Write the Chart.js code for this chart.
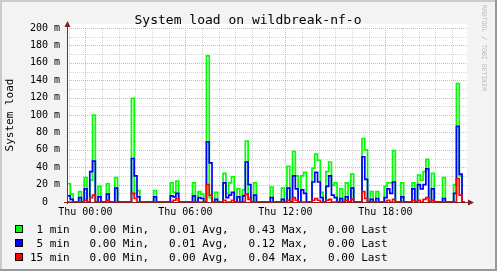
<!DOCTYPE html>
<html>
<head>
<meta charset="utf-8">
<script src="https://cdn.jsdelivr.net/npm/chart.js@4/dist/chart.umd.min.js"></script>
<style>
  html, body { margin: 0; padding: 0; background: #f3f3f3; }
  canvas { display: block; }
</style>
</head>
<body>
<canvas id="load" width="497" height="271"></canvas>
<script>
// samples every 10 minutes, minutes counted from Thu 00:00
const sampleStart = -64;
const sampleStep = 10;

// load averages in milli-units (the axis shows "m")
const load1 = [21, 9, 0, 0, 12, 0, 28, 0, 25, 100,
  0, 18, 0, 0, 21, 0, 0, 28, 0, 0,
  0, 0, 0, 119, 10, 13, 0, 0, 0, 0,
  0, 13, 0, 0, 0, 0, 0, 22, 11, 24,
  0, 0, 0, 0, 0, 22, 0, 12, 9, 0,
  168, 5, 0, 11, 0, 0, 33, 10, 22, 29,
  0, 15, 0, 14, 70, 5, 0, 22, 0, 0,
  0, 0, 0, 17, 0, 0, 0, 16, 0, 41,
  0, 58, 30, 0, 30, 34, 0, 0, 39, 55,
  48, 11, 0, 35, 46, 19, 22, 0, 15, 0,
  22, 0, 32, 0, 0, 0, 73, 60, 0, 12,
  0, 12, 0, 0, 18, 22, 22, 59, 0, 0,
  22, 0, 0, 0, 22, 0, 31, 25, 35, 49,
  0, 33, 0, 0, 0, 28, 0, 0, 0, 20,
  136, 30, 0, 0];
const load5 = [7, 3, 0, 0, 5, 0, 15, 0, 35, 47,
  0, 6, 0, 0, 9, 0, 0, 16, 0, 0,
  0, 0, 0, 50, 30, 6, 0, 0, 0, 0,
  0, 6, 0, 0, 0, 0, 0, 7, 6, 10,
  0, 0, 0, 0, 0, 7, 0, 5, 4, 0,
  69, 45, 0, 3, 0, 0, 22, 5, 8, 11,
  0, 6, 0, 7, 46, 20, 0, 8, 0, 0,
  0, 0, 0, 5, 0, 0, 0, 3, 0, 16,
  0, 30, 15, 0, 14, 10, 0, 0, 23, 34,
  23, 5, 0, 18, 30, 8, 5, 0, 4, 0,
  6, 0, 16, 0, 0, 0, 52, 26, 0, 3,
  0, 4, 0, 0, 5, 15, 10, 23, 0, 0,
  6, 0, 0, 0, 15, 0, 20, 15, 20, 38,
  0, 15, 0, 0, 0, 4, 0, 0, 0, 10,
  87, 32, 0, 0];
const load15 = [0, 0, 0, 0, 0, 0, 2, 0, 5, 8,
  0, 0, 0, 0, 2, 0, 0, 0, 0, 0,
  0, 0, 0, 10, 4, 0, 0, 0, 0, 0,
  0, 0, 0, 0, 0, 0, 0, 0, 2, 4,
  0, 0, 0, 0, 0, 0, 0, 0, 0, 0,
  20, 8, 0, 0, 0, 0, 2, 0, 0, 2,
  0, 0, 0, 0, 9, 3, 0, 0, 0, 0,
  0, 0, 0, 0, 0, 0, 0, 0, 0, 2,
  0, 5, 2, 0, 0, 0, 0, 0, 2, 4,
  2, 0, 0, 2, 3, 0, 0, 0, 0, 0,
  2, 0, 3, 0, 0, 0, 12, 4, 0, 0,
  0, 0, 0, 0, 0, 2, 0, 3, 0, 0,
  0, 0, 0, 0, 2, 0, 2, 0, 3, 5,
  0, 2, 0, 0, 0, 0, 0, 0, 0, 0,
  27, 8, 0, 0];

const timeTicks = [0, 360, 720, 1080];
const timeLabels = ['Thu 00:00', 'Thu 06:00', 'Thu 12:00', 'Thu 18:00'];
const loadTicks = [0, 20, 40, 60, 80, 100, 120, 140, 160, 180, 200];
const loadLabels = ['0  ', '20 m', '40 m', '60 m', '80 m', '100 m', '120 m', '140 m', '160 m', '180 m', '200 m'];

const legendNames = [' 1 min', ' 5 min', '15 min'];
const legendColors = ['#00ff00', '#0000ff', '#ff0000'];
const legendMin = ['0.00', '0.00', '0.00'];
const legendAvg = ['0.01', '0.01', '0.00'];
const legendMax = ['0.43', '0.12', '0.04'];
const legendLast = ['0.00', '0.00', '0.00'];

const mono = '"DejaVu Sans Mono", monospace';

function points(values) {
  return values.map((v, i) => ({ x: sampleStart + i * sampleStep, y: v }));
}

// background, frame, canvas, grid, axes and texts in the rrdtool look
const rrdLook = {
  id: 'rrdLook',
  beforeDraw(chart) {
    const ctx = chart.ctx;
    const a = chart.chartArea;
    const W = chart.width, H = chart.height;
    ctx.save();
    ctx.fillStyle = '#f3f3f3';
    ctx.fillRect(0, 0, W, H);
    ctx.fillStyle = '#cbcbcb';
    ctx.fillRect(0, 0, W, 2);
    ctx.fillRect(0, 0, 2, H);
    ctx.fillStyle = '#999999';
    ctx.fillRect(0, H - 2, W, 2);
    ctx.fillRect(W - 2, 0, 2, H);
    ctx.fillStyle = '#ffffff';
    ctx.fillRect(a.left, a.top - 4, a.right - a.left, a.bottom - a.top + 4);
    ctx.restore();
  },
  beforeDatasetsDraw(chart) {
    const ctx = chart.ctx;
    const a = chart.chartArea;
    const xs = chart.scales.x, ys = chart.scales.y;
    ctx.save();
    ctx.lineWidth = 1;
    ctx.setLineDash([1, 1]);
    for (let t = -60; t <= xs.max; t += 60) {
      const px = Math.round(xs.getPixelForValue(t)) + 0.5;
      ctx.strokeStyle = t % 360 === 0 ? 'rgba(215,120,120,0.6)' : 'rgba(170,170,170,0.5)';
      ctx.beginPath();
      ctx.moveTo(px, a.top);
      ctx.lineTo(px, a.bottom);
      ctx.stroke();
    }
    for (let v = 10; v <= ys.max; v += 10) {
      const py = Math.round(ys.getPixelForValue(v)) + 0.5;
      ctx.strokeStyle = v % 20 === 0 ? 'rgba(215,120,120,0.6)' : 'rgba(170,170,170,0.5)';
      ctx.beginPath();
      ctx.moveTo(a.left, py);
      ctx.lineTo(a.right, py);
      ctx.stroke();
    }
    ctx.restore();
  },
  afterDatasetsDraw(chart) {
    const ctx = chart.ctx;
    const a = chart.chartArea;
    ctx.save();
    // axes
    ctx.setLineDash([]);
    ctx.lineWidth = 1;
    ctx.strokeStyle = '#444444';
    ctx.beginPath();
    ctx.moveTo(a.left + 0.5, a.bottom + 2);
    ctx.lineTo(a.left + 0.5, a.top - 4);
    ctx.stroke();
    ctx.strokeStyle = '#7f1f1f';
    ctx.beginPath();
    ctx.moveTo(a.left - 3, a.bottom + 0.5);
    ctx.lineTo(a.right + 2, a.bottom + 0.5);
    ctx.stroke();
    // arrows
    ctx.fillStyle = '#7f1f1f';
    ctx.beginPath();
    ctx.moveTo(a.left + 0.5, a.top - 7);
    ctx.lineTo(a.left + 3.5, a.top - 1);
    ctx.lineTo(a.left - 2.5, a.top - 1);
    ctx.closePath();
    ctx.fill();
    ctx.beginPath();
    ctx.moveTo(a.right + 7, a.bottom + 0.5);
    ctx.lineTo(a.right + 1, a.bottom - 2.5);
    ctx.lineTo(a.right + 1, a.bottom + 3.5);
    ctx.closePath();
    ctx.fill();

    // title
    ctx.fillStyle = '#000000';
    ctx.font = '13px ' + mono;
    ctx.textAlign = 'center';
    ctx.textBaseline = 'alphabetic';
    ctx.fillText('System load on wildbreak-nf-o', 248, 24);

    // vertical axis title
    ctx.save();
    ctx.translate(10, 115);
    ctx.rotate(-Math.PI / 2);
    ctx.font = '11px ' + mono;
    ctx.textBaseline = 'middle';
    ctx.fillText('System load', 0, 0);
    ctx.restore();

    // watermark
    ctx.save();
    ctx.translate(484, 5);
    ctx.rotate(Math.PI / 2);
    ctx.font = '6.5px ' + mono;
    ctx.textAlign = 'left';
    ctx.textBaseline = 'middle';
    ctx.fillStyle = '#b8b8b8';
    ctx.fillText('RRDTOOL / TOBI OETIKER', 0, 0);
    ctx.restore();

    // legend
    ctx.font = '11px ' + mono;
    ctx.textAlign = 'left';
    ctx.textBaseline = 'alphabetic';
    for (let i = 0; i < legendNames.length; i++) {
      const y = 225 + i * 14;
      ctx.fillStyle = legendColors[i];
      ctx.fillRect(15, y, 8, 8);
      ctx.strokeStyle = '#000000';
      ctx.strokeRect(15.5, y + 0.5, 7, 7);
      ctx.fillStyle = '#000000';
      const line = legendNames[i] + '   ' + legendMin[i] + ' Min,   ' + legendAvg[i] +
        ' Avg,   ' + legendMax[i] + ' Max,   ' + legendLast[i] + ' Last';
      ctx.fillText(line, 30, y + 8);
    }
    ctx.restore();
  }
};

const lineStyle = {
  stepped: 'before',
  fill: false,
  pointRadius: 0,
  borderWidth: 1.7,
  tension: 0,
  clip: 3
};

new Chart(document.getElementById('load'), {
  type: 'line',
  data: {
    datasets: [
      Object.assign({ label: '1 min', data: points(load1), borderColor: '#00ff00', order: 3 }, lineStyle),
      Object.assign({ label: '5 min', data: points(load5), borderColor: '#0000ff', order: 2 }, lineStyle),
      Object.assign({ label: '15 min', data: points(load15), borderColor: '#ff0000', order: 1 }, lineStyle)
    ]
  },
  options: {
    responsive: false,
    animation: false,
    devicePixelRatio: 1,
    layout: { padding: { left: 0, right: 30, top: 28, bottom: 49 } },
    plugins: { legend: { display: false }, tooltip: { enabled: false } },
    scales: {
      x: {
        type: 'linear',
        min: -66,
        max: 1374,
        grid: { display: false, drawTicks: false },
        border: { display: false },
        afterBuildTicks: s => { s.ticks = timeTicks.map(v => ({ value: v })); },
        afterFit: s => { s.height = 20; },
        ticks: {
          autoSkip: false,
          maxRotation: 0,
          padding: 4,
          color: '#000000',
          font: { family: mono, size: 10 },
          callback: v => timeLabels[timeTicks.indexOf(v)]
        }
      },
      y: {
        min: 0,
        max: 200,
        grid: { display: false, drawTicks: false },
        border: { display: false },
        afterBuildTicks: s => { s.ticks = loadTicks.map(v => ({ value: v })); },
        afterFit: s => { s.width = 67; },
        ticks: {
          padding: 7,
          color: '#000000',
          font: { family: mono, size: 10 },
          callback: v => loadLabels[loadTicks.indexOf(v)]
        }
      }
    }
  },
  plugins: [rrdLook]
});
</script>
</body>
</html>
